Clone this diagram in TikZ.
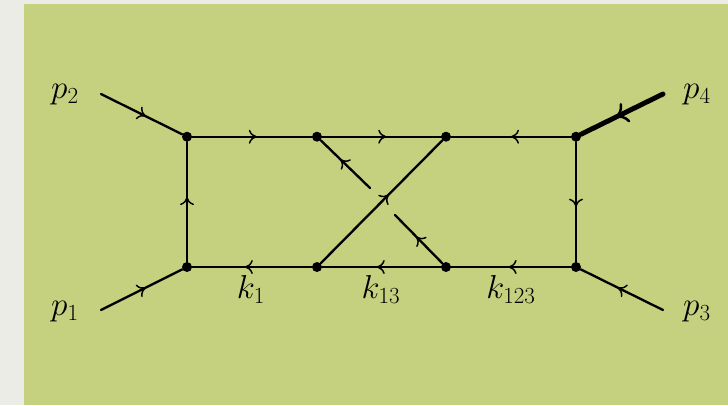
\documentclass[tikz,border=0pt]{standalone}
\usepackage{amsmath}
\usepackage{xcolor}
\usepackage{tikz}
\usetikzlibrary{arrows.meta, decorations.markings}

\definecolor{slidegreen}{HTML}{C5D17F}
\definecolor{slidepaper}{HTML}{ECECE6}

\tikzset{
  vertex/.style={circle,fill=black,inner sep=0pt,minimum size=7.5pt},
  leg/.style={line width=1.75pt,line cap=round,postaction={decorate},
    decoration={markings,mark=at position #1 with
      {\arrow{Computer Modern Rightarrow[width=10.5pt,length=6pt,line width=1.1pt]}}}},
  leg/.default=0.54,
  heavyleg/.style={line width=3.7pt,line cap=round,postaction={decorate},
    decoration={markings,mark=at position #1 with
      {\arrow{Computer Modern Rightarrow[width=16pt,length=9pt,line width=1.9pt]}}}},
  lab/.style={font=\fontsize{26.5}{30}\selectfont,inner sep=0pt}
}

\begin{document}
\begin{tikzpicture}[x=0.75pt,y=-0.75pt]
  % Slide background
  \fill[slidepaper] (0,0) rectangle (728,405);
  \fill[slidegreen] (24,4) rectangle (728,405);
  \useasboundingbox (0,0) rectangle (728,405);

  % Loop vertices
  \node[vertex] (A) at (187,136.7) {};
  \node[vertex] (B) at (317,136.7) {};
  \node[vertex] (C) at (446,136.7) {};
  \node[vertex] (D) at (576,136.7) {};
  \node[vertex] (E) at (187,267) {};
  \node[vertex] (F) at (317,267) {};
  \node[vertex] (G) at (446,267) {};
  \node[vertex] (H) at (576,267) {};

  % External momenta end points
  \coordinate (P1) at (101,310);
  \coordinate (P2) at (101,94);
  \coordinate (P3) at (663,310);
  \coordinate (P4) at (663,94);

  % Ends of the broken line at the crossing
  \coordinate (X1) at (370,188);
  \coordinate (X2) at (395,215);

  % External legs
  \draw[leg=0.55] (P1) -- (E);
  \draw[leg=0.55] (P2) -- (A);
  \draw[leg=0.55] (P3) -- (H);
  \draw[heavyleg=0.58] (P4) -- (D);

  % Box edges
  \draw[leg] (E) -- (A);
  \draw[leg] (A) -- (B);
  \draw[leg] (B) -- (C);
  \draw[leg=0.5] (D) -- (C);
  \draw[leg] (D) -- (H);
  \draw[leg=0.56] (F) -- (E);
  \draw[leg] (G) -- (F);
  \draw[leg=0.52] (H) -- (G);

  % Crossing lines
  \draw[leg=0.56] (F) -- (C);
  \draw[leg=0.55] (G) -- (X2);
  \draw[leg=0.6] (X1) -- (B);

  % Labels
  \node[lab] (p1) at (65,312) {$p_1$};
  \node[lab] (p2) at (65,95) {$p_2$};
  \node[lab] (p3) at (697,312) {$p_3$};
  \node[lab] (p4) at (697,95) {$p_4$};
  \node[lab] (k1) at (251,289) {$k_1$};
  \node[lab] (k13) at (381,289) {$k_{13}$};
  \node[lab] (k123) at (511,289) {$k_{123}$};
\end{tikzpicture}
\end{document}
